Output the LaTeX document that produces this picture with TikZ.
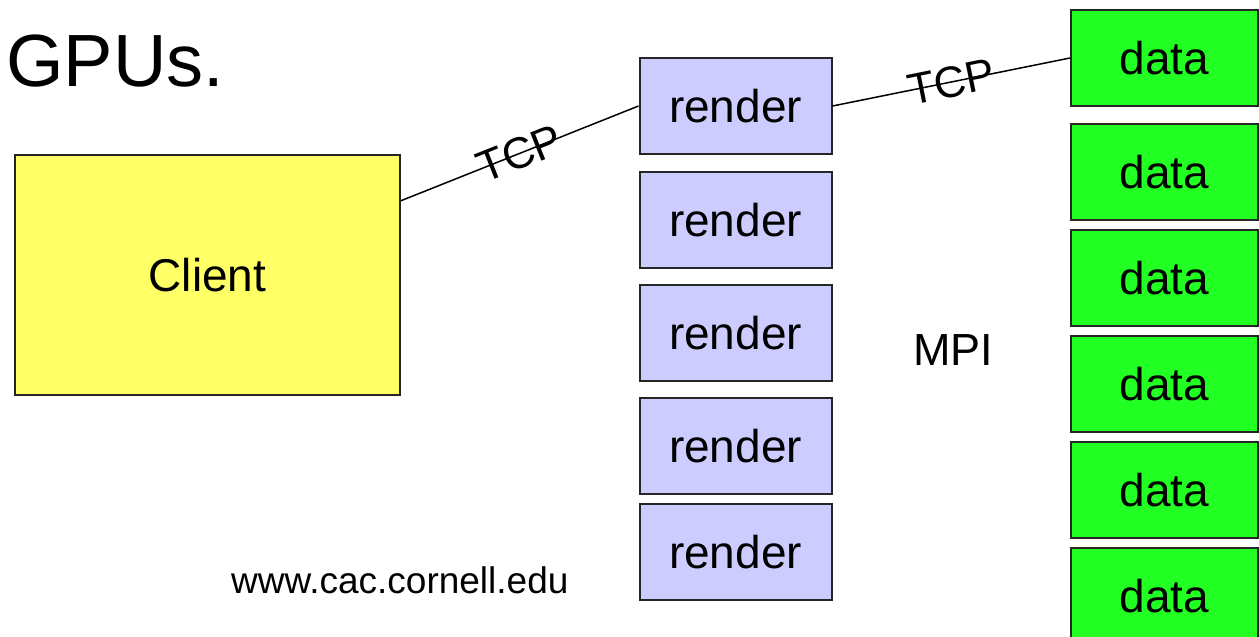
\documentclass[tikz,border=0pt]{standalone}
\definecolor{clientyellow}{RGB}{255, 255, 102}
\definecolor{renderblue}{RGB}{204, 204, 255}
\definecolor{datagreen}{RGB}{34, 255, 34}
\usepackage{fontspec}
\setmainfont{Liberation Sans}
\usepackage{tikz}
\usetikzlibrary{shapes, calc}

\tikzset{
  box/.style={draw=black!85, line width=2pt, inner sep=0pt, font=\fontsize{46}{50}\selectfont},
  renderbox/.style={box, fill=renderblue, minimum width=192pt, minimum height=96pt},
  databox/.style={box, fill=datagreen, minimum width=187pt, minimum height=96pt},
  link/.style={line width=1.5pt},
  tcp/.style={font=\fontsize{44}{48}\selectfont, sloped, midway, inner sep=0pt}
}

\begin{document}
\begin{tikzpicture}[x=1pt, y=-1pt]
  \useasboundingbox (0,0) rectangle (1259,637);

  % title and footer
  \node[anchor=base west, inner sep=0pt, font=\fontsize{74}{78}\selectfont] (title) at (6,86) {GPUs.};
  \node[anchor=base west, inner sep=0pt, font=\fontsize{37}{41}\selectfont] (url) at (231,593) {www.cac.cornell.edu};

  % client
  \node[box, fill=clientyellow, minimum width=385pt, minimum height=240pt] (client) at (207.5,275) {Client};

  % render nodes
  \node[renderbox] (render1) at (735.5,106) {render};
  \node[renderbox] (render2) at (735.5,220) {render};
  \node[renderbox] (render3) at (735.5,333) {render};
  \node[renderbox] (render4) at (735.5,446) {render};
  \node[renderbox] (render5) at (735.5,552) {render};

  % data nodes
  \node[databox] (data1) at (1164.5,58) {data};
  \node[databox] (data2) at (1164.5,172) {data};
  \node[databox] (data3) at (1164.5,278) {data};
  \node[databox] (data4) at (1164.5,384) {data};
  \node[databox] (data5) at (1164.5,490) {data};
  \node[databox] (data6) at (1164.5,596) {data};

  \node[inner sep=0pt, font=\fontsize{45}{49}\selectfont] (mpi) at (953,350) {MPI};

  % connections
  \draw[link] (client.21) -- node[tcp] {TCP} (render1.west);
  \draw[link] (render1.east) -- node[tcp] {TCP} (data1.west);
\end{tikzpicture}
\end{document}
